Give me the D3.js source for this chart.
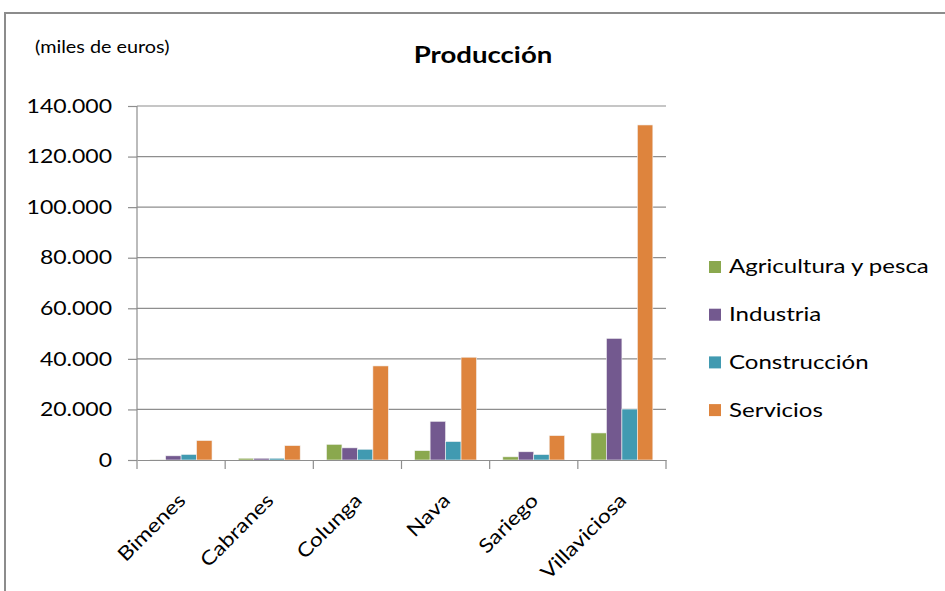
<!DOCTYPE html>
<html>
<head>
<meta charset="utf-8">
<script src="https://cdn.jsdelivr.net/npm/d3@7"></script>
<style>
    body { margin: 0; background: #fff; }
    svg { display: block; font-family: Lato, "Open Sans", sans-serif; }
</style>
</head>
<body>
<svg id="chart" width="945" height="591"></svg>
<script>
// municipios and the four sectors (miles de euros)
const categories = ['Bimenes', 'Cabranes', 'Colunga', 'Nava', 'Sariego', 'Villaviciosa'];
const seriesNames = ['Agricultura y pesca', 'Industria', 'Construcción', 'Servicios'];
const agricultura = [150, 700, 6200, 3700, 1250, 10700];
const industria = [1650, 700, 4800, 15300, 3250, 48100];
const construccion = [2200, 700, 4250, 7300, 2150, 20150];
const servicios = [7700, 5700, 37200, 40650, 9650, 132500];
const yTicks = [0, 20000, 40000, 60000, 80000, 100000, 120000, 140000];
const colors = ['#8aa84e', '#73598f', '#419ab1', '#de843d'];

const seriesValues = [agricultura, industria, construccion, servicios];

const config = {
    left: 137,
    right: 666,
    top: 106,
    bottom: 460,
    fontFamily: 'Lato, sans-serif',
    stretch: 1.18   // the reference lettering is a bit wider than Lato
};

const svg = d3.select('#chart');

// outer frame
svg.append('rect')
    .attr('x', 5)
    .attr('y', 13)
    .attr('width', 960)
    .attr('height', 600)
    .attr('fill', 'none')
    .attr('stroke', '#8c8c8c')
    .attr('stroke-width', 2);

const x0 = d3.scaleBand()
    .domain(categories)
    .range([config.left, config.right])
    .paddingInner(0)
    .paddingOuter(0);

const x1 = d3.scaleBand()
    .domain(seriesNames)
    .range([0, x0.bandwidth()])
    .paddingInner(0)
    .paddingOuter(0.85);

const y = d3.scaleLinear()
    .domain([0, 140000])
    .range([config.bottom, config.top]);

// gridlines
svg.append('g')
    .selectAll('line')
    .data(yTicks.slice(1))
    .enter()
    .append('line')
    .attr('x1', config.left)
    .attr('x2', config.right)
    .attr('y1', d => y(d))
    .attr('y2', d => y(d))
    .attr('stroke', '#8e8e8e')
    .attr('stroke-width', 1.2);

// bars
const groups = svg.append('g')
    .selectAll('g')
    .data(categories)
    .enter()
    .append('g')
    .attr('transform', d => `translate(${x0(d)},0)`);

groups.selectAll('rect')
    .data((d, i) => seriesNames.map((s, j) => ({ s: s, v: seriesValues[j][i], c: colors[j] })))
    .enter()
    .append('rect')
    .attr('x', d => x1(d.s))
    .attr('width', x1.bandwidth())
    .attr('y', d => y(d.v))
    .attr('height', d => y(0) - y(d.v))
    .attr('fill', d => d.c)
    .attr('stroke', '#f3f3f3')
    .attr('stroke-width', 0.6);

// y axis
const fmt = d => d === 0 ? '0' : d3.format(',')(d).replace(/,/g, '.');
const yAxis = svg.append('g')
    .attr('transform', `translate(${config.left},0)`)
    .call(d3.axisLeft(y).tickValues(yTicks).tickFormat(fmt).tickSize(9));
yAxis.selectAll('line, path').attr('stroke', '#8e8e8e').attr('stroke-width', 1.2);
yAxis.select('.domain').attr('d', `M0,${config.top}V${config.bottom}`);
yAxis.selectAll('text')
    .attr('x', 0)
    .attr('transform', `translate(-25,0) scale(${config.stretch},1)`)
    .attr('font-family', config.fontFamily)
    .attr('font-size', 19.5)
    .attr('fill', '#000');

// x axis
const xAxis = svg.append('g')
    .attr('transform', `translate(0,${config.bottom})`)
    .call(d3.axisBottom(x0).tickSize(0).tickFormat(''));
xAxis.select('.domain').attr('stroke', '#8e8e8e').attr('stroke-width', 1.2);
xAxis.selectAll('.tick').remove();

const boundaries = d3.range(categories.length + 1).map(i => config.left + i * x0.step());
xAxis.selectAll('.sep')
    .data(boundaries)
    .enter()
    .append('line')
    .attr('x1', d => d)
    .attr('x2', d => d)
    .attr('y1', 0)
    .attr('y2', 9)
    .attr('stroke', '#8e8e8e')
    .attr('stroke-width', 1.2);

xAxis.selectAll('.lbl')
    .data(categories)
    .enter()
    .append('text')
    .attr('transform', d => `translate(${x0(d) + x0.bandwidth() / 2 - 4},${32}) rotate(-45) scale(${config.stretch},1)`)
    .attr('text-anchor', 'end')
    .attr('dy', '0.7em')
    .attr('font-family', config.fontFamily)
    .attr('font-size', 19.5)
    .attr('fill', '#000')
    .text(d => d);

// title and units
svg.append('text')
    .attr('transform', `translate(483,63) scale(1.2,1)`)
    .attr('text-anchor', 'middle')
    .attr('font-size', 23)
    .attr('font-weight', 'bold')
    .text('Producción');

svg.append('text')
    .attr('transform', `translate(35,53) scale(1.2,1)`)
    .attr('font-size', 16.5)
    .text('(miles de euros)');

// legend
const legend = svg.append('g')
    .selectAll('g')
    .data(seriesNames)
    .enter()
    .append('g')
    .attr('transform', (d, i) => `translate(709,${267 + i * 47.7})`);

legend.append('rect')
    .attr('x', 0)
    .attr('y', -6)
    .attr('width', 12)
    .attr('height', 12)
    .attr('fill', (d, i) => colors[i]);

legend.append('text')
    .attr('transform', 'translate(20,0) scale(1.3,1)')
    .attr('dy', '0.35em')
    .attr('font-size', 18.5)
    .text(d => d);
</script>
</body>
</html>
